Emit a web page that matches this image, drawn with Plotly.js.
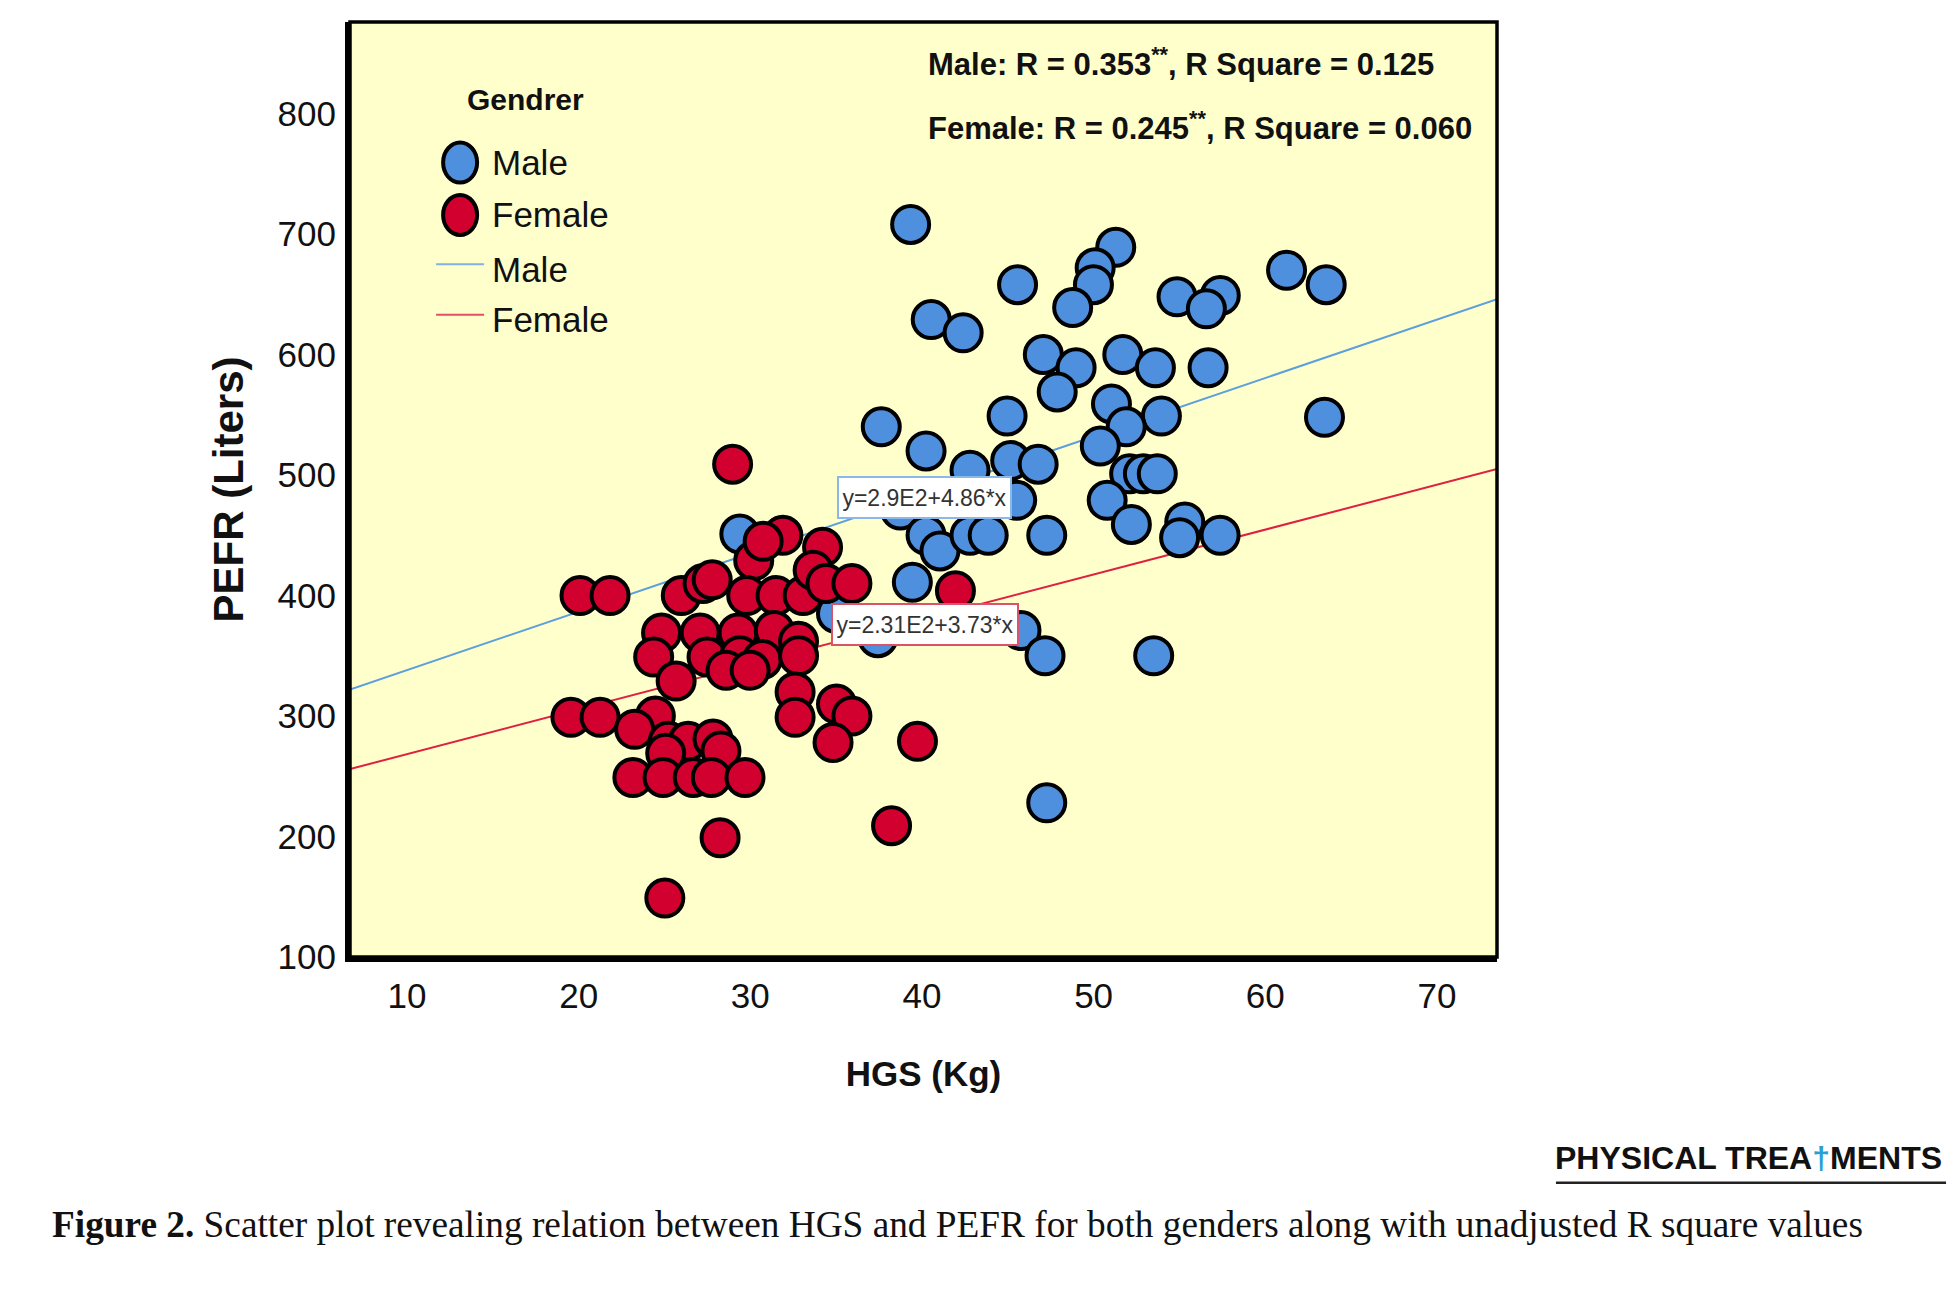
<!DOCTYPE html>
<html>
<head>
<meta charset="utf-8">
<script src="https://cdn.plot.ly/plotly-3.0.1.min.js"></script>
<style>
  html, body { margin: 0; padding: 0; background: #fff; }
  #chart { width: 1952px; height: 1290px; }
</style>
</head>
<body>
<div id="chart"></div>
<script>
// HGS (Kg) vs PEFR (Liters)
const maleHGS = [
  39.34, 51.29, 50.09, 49.99, 45.57, 48.78, 40.54, 42.40, 54.86, 57.38, 56.57, 61.24, 63.55,
  47.07, 48.98, 47.88, 51.70, 53.60, 56.67, 51.04, 53.95, 51.90, 50.39, 44.96, 37.63, 40.24,
  45.17, 46.77, 42.80, 52.10, 52.90, 53.71, 38.74, 45.52, 50.79, 40.24, 41.05, 42.80, 43.86,
  47.27, 52.20, 55.31, 55.01, 57.37, 39.44, 45.77, 47.17, 53.50, 37.43, 47.27, 63.45, 29.39, 35.02,
];
const malePEFR = [
  708, 689, 672, 658, 658, 639, 629, 618, 648, 649, 638, 670, 658,
  600, 589, 569, 600, 589, 589, 559, 549, 540, 524, 549, 540, 520,
  512, 509, 504, 501, 501, 501, 471, 479, 479, 450, 437, 450, 450,
  450, 459, 461, 448, 450, 411, 371, 350, 350, 365, 228, 548, 451, 385,
];
const femaleHGS = [
  28.97, 31.90, 34.21, 30.20, 30.75, 20.08, 21.83, 25.98, 27.25, 27.78, 29.79, 31.50, 33.08,
  33.66, 34.41, 35.92, 41.95, 24.83, 27.08, 29.29, 31.40, 32.81, 24.37, 27.48, 29.39, 30.70,
  32.81, 28.59, 29.99, 25.68, 32.61, 32.61, 35.02, 35.92, 19.55, 21.25, 24.47, 23.26, 25.22,
  26.38, 27.83, 28.29, 25.07, 23.16, 24.92, 26.68, 27.73, 29.69, 28.24, 25.02, 34.82, 39.74, 38.23,
];
const femalePEFR = [
  509, 450, 440, 429, 445, 400, 400, 400, 410, 413, 400, 400, 400,
  421, 410, 410, 404, 369, 369, 369, 371, 362, 349, 349, 350, 347,
  350, 338, 338, 329, 320, 299, 310, 300, 299, 299, 300, 289, 279,
  279, 281, 271, 269, 249, 249, 249, 249, 249, 199, 149, 278, 279, 209,
];

// fit lines across the frame
const fitHGS = [6.68, 73.5];
const maleFitPEFR = [322, 646];
const femaleFitPEFR = [256, 505];

const xTicks = [10, 20, 30, 40, 50, 60, 70];
const yTicks = [100, 200, 300, 400, 500, 600, 700, 800];

const SANS = '"Liberation Sans", Arial, sans-serif';
const SERIF = '"Liberation Serif", "DejaVu Serif", serif';

const MALE = '#4e90de';
const FEMALE = '#d1002f';

const traces = [
  {
    x: fitHGS, y: maleFitPEFR, type: 'scatter', mode: 'lines',
    line: { color: '#5d9fdc', width: 2 }, hoverinfo: 'skip', showlegend: false,
  },
  {
    x: fitHGS, y: femaleFitPEFR, type: 'scatter', mode: 'lines',
    line: { color: '#df2040', width: 2 }, hoverinfo: 'skip', showlegend: false,
  },
  {
    x: maleHGS, y: malePEFR, name: 'Male', type: 'scatter', mode: 'markers',
    marker: { color: MALE, size: 37, line: { color: '#000', width: 4 } },
    showlegend: false,
  },
  {
    x: femaleHGS, y: femalePEFR, name: 'Female', type: 'scatter', mode: 'markers',
    marker: { color: FEMALE, size: 37, line: { color: '#000', width: 4 } },
    showlegend: false,
  },
];

// hand-built legend: symbols are pixel-sized around a paper anchor
const LEG_X = 0.096;
function legendDot(yPaper, color) {
  return {
    type: 'circle', xref: 'paper', yref: 'paper',
    xsizemode: 'pixel', ysizemode: 'pixel',
    xanchor: LEG_X, yanchor: yPaper,
    x0: -17, x1: 17, y0: -20, y1: 20,
    fillcolor: color, line: { color: '#000', width: 4 },
  };
}
function legendLine(yPaper, color) {
  return {
    type: 'line', xref: 'paper', yref: 'paper',
    xsizemode: 'pixel', xanchor: LEG_X,
    x0: -24, x1: 24, y0: yPaper, y1: yPaper,
    line: { color, width: 2 },
  };
}

const legendLabels = ['Male', 'Female', 'Male', 'Female'];
const legendY = [0.8497, 0.7936, 0.7358, 0.6813];

const layout = {
  width: 1952,
  height: 1290,
  margin: { l: 350, r: 455, t: 22, b: 333 },
  paper_bgcolor: '#ffffff',
  plot_bgcolor: '#ffffcc',
  showlegend: false,
  xaxis: {
    range: [6.68, 73.5],
    tickvals: xTicks,
    ticks: 'outside', ticklen: 4, tickcolor: 'rgba(0,0,0,0)',
    tickfont: { family: SANS, size: 35, color: '#111' },
    showgrid: false, zeroline: false,
    showline: true, linecolor: '#000', linewidth: 5,
    title: { text: 'HGS (Kg)', font: { family: SANS, size: 35, color: '#111', weight: 'bold' }, standoff: 49 },
  },
  yaxis: {
    range: [100, 876],
    tickvals: yTicks,
    ticks: 'outside', ticklen: 2, tickcolor: 'rgba(0,0,0,0)',
    tickfont: { family: SANS, size: 35, color: '#111' },
    showgrid: false, zeroline: false,
    showline: true, linecolor: '#000', linewidth: 5,
    title: { text: 'PEFR (Liters)', font: { family: SANS, size: 42, color: '#111', weight: 'bold' }, standoff: 22 },
  },
  shapes: [
    {
      type: 'rect', xref: 'paper', yref: 'paper', x0: 0, x1: 1, y0: 0, y1: 1,
      line: { color: '#000', width: 3.5 }, layer: 'above',
    },
    legendDot(legendY[0], MALE),
    legendDot(legendY[1], FEMALE),
    legendLine(0.741, '#7fb2e0'),
    legendLine(0.687, '#e0506a'),
    // underline of the journal mark
    {
      type: 'line', xref: 'paper', yref: 'paper',
      x0: 1.0514, x1: 1.3915, y0: -0.2415, y1: -0.2415,
      line: { color: '#222', width: 2.5 },
    },
  ],
  annotations: [
    {
      xref: 'paper', yref: 'paper', x: 0.7245, y: 0.957,
      xanchor: 'center', yanchor: 'middle', showarrow: false,
      text: 'Male: R = 0.353<sup>**</sup>, R Square = 0.125',
      font: { family: SANS, size: 31, color: '#111', weight: 'bold' },
    },
    {
      xref: 'paper', yref: 'paper', x: 0.741, y: 0.889,
      xanchor: 'center', yanchor: 'middle', showarrow: false,
      text: 'Female: R = 0.245<sup>**</sup>, R Square = 0.060',
      font: { family: SANS, size: 31, color: '#111', weight: 'bold' },
    },
    {
      xref: 'paper', yref: 'paper', x: 0.1526, y: 0.9166,
      xanchor: 'center', yanchor: 'middle', showarrow: false,
      text: 'Gendrer',
      font: { family: SANS, size: 30, color: '#111', weight: 'bold' },
    },
    ...legendLabels.map((t, i) => ({
      xref: 'paper', yref: 'paper', x: 0.122, y: legendY[i],
      xanchor: 'left', yanchor: 'middle', showarrow: false, text: t,
      font: { family: SANS, size: 35, color: '#111' },
    })),
    {
      x: 40.14, y: 481, xanchor: 'center', yanchor: 'middle', showarrow: false,
      text: 'y=2.9E2+4.86*x',
      font: { family: SANS, size: 23, color: '#333' },
      bgcolor: '#ffffff', bordercolor: '#8ab8e8', borderwidth: 2, borderpad: 0,
      width: 171, height: 39,
    },
    {
      x: 40.17, y: 376, xanchor: 'center', yanchor: 'middle', showarrow: false,
      text: 'y=2.31E2+3.73*x',
      font: { family: SANS, size: 23, color: '#333' },
      bgcolor: '#ffffff', bordercolor: '#d9536b', borderwidth: 2, borderpad: 0,
      width: 184, height: 39,
    },
    {
      xref: 'paper', yref: 'paper', x: 1.3895, y: -0.2155,
      xanchor: 'right', yanchor: 'middle', showarrow: false,
      text: 'PHYSICAL TREA<span style="color:#2a9fd6">†</span>MENTS',
      font: { family: SANS, size: 32, color: '#111', weight: 'bold' },
    },
    {
      xref: 'paper', yref: 'paper', x: -0.2616, y: -0.2865,
      xanchor: 'left', yanchor: 'middle', showarrow: false,
      text: '<b>Figure 2.</b> Scatter plot revealing relation between HGS and PEFR for both genders along with unadjusted R square values',
      font: { family: SERIF, size: 37.3, color: '#111' },
    },
  ],
};

Plotly.newPlot('chart', traces, layout, { displayModeBar: false, staticPlot: true });
</script>
</body>
</html>
